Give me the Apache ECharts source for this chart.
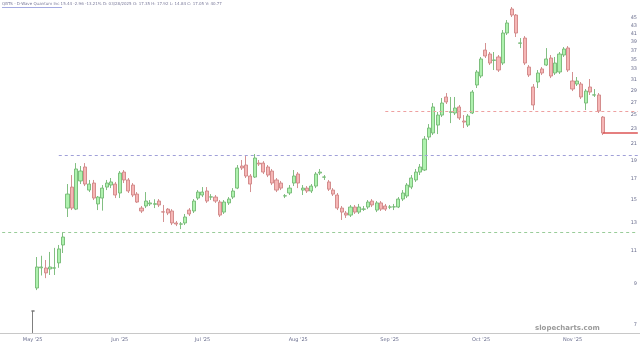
<!DOCTYPE html>
<html><head><meta charset="utf-8">
<script src="https://cdn.jsdelivr.net/npm/echarts@6/dist/echarts.min.js"></script>
<style>html,body{margin:0;padding:0;background:#fff}#c{width:640px;height:345px}</style>
</head><body><div id="c"></div>
<script>
// Daily OHLC (log price scale)
const opens = [7.62,8.76,9.90,9.89,9.83,9.88,10.20,11.37,14.22,16.15,14.13,16.76,18.24,15.86,16.55,14.58,15.11,16.15,16.35,16.45,15.58,17.69,16.86,16.35,15.48,14.22,14.40,14.58,14.55,14.84,13.90,14.13,13.97,12.99,12.90,12.99,14.05,13.97,15.11,15.39,15.77,15.20,15.20,14.75,13.88,14.67,15.20,16.05,18.35,18.46,17.27,17.16,18.68,18.68,18.24,17.80,16.86,16.55,15.30,15.58,16.55,17.48,15.86,16.05,15.77,16.25,17.58,17.15,16.66,15.86,15.39,14.22,13.80,13.63,14.31,13.88,14.12,14.31,14.84,14.05,14.67,14.40,14.30,14.32,14.31,15.02,15.30,16.15,16.86,17.69,17.91,21.87,22.41,23.52,24.99,27.88,25.40,25.30,26.24,24.10,23.52,25.30,29.98,31.66,37.06,36.17,34.80,35.53,34.25,41.09,47.52,45.82,38.60,39.85,33.43,29.62,30.53,33.04,33.84,35.31,32.24,32.44,35.96,37.52,30.72,30.16,30.16,26.88,29.62,28.20,28.22,24.69];
const closes = [7.62,9.95,9.95,9.60,9.95,9.90,11.10,11.93,15.48,14.22,18.02,17.80,16.45,16.45,15.11,15.20,16.05,16.55,16.66,15.39,17.58,16.86,15.77,15.39,14.75,13.97,14.84,14.67,14.60,14.49,13.88,13.80,12.99,12.91,12.92,13.47,13.72,14.84,15.67,15.67,14.84,15.22,14.84,13.63,14.75,15.02,15.77,18.13,18.13,17.27,16.45,19.26,18.57,17.69,17.37,16.55,15.86,16.05,15.32,16.05,17.27,16.55,16.05,15.77,16.25,17.48,17.69,17.17,15.95,15.48,14.22,13.88,13.63,14.31,13.88,14.31,14.14,14.75,14.49,14.67,14.13,14.13,14.32,14.33,15.02,15.58,16.35,17.06,17.69,18.24,21.61,23.10,26.24,24.99,26.88,27.05,25.50,26.08,24.55,23.95,24.84,28.73,32.44,35.10,35.74,34.25,34.90,32.83,41.09,43.66,45.82,41.09,38.70,34.25,31.85,26.56,32.24,32.24,35.10,31.66,34.25,36.17,37.29,32.83,29.26,30.72,27.88,28.90,28.73,28.25,25.60,22.41];
const lows = [6.67,8.65,9.45,9.30,9.48,9.48,9.90,10.83,13.47,14.05,14.05,16.45,16.25,15.67,14.93,14.05,14.00,15.86,16.05,15.11,15.11,16.55,15.58,15.20,14.67,13.80,14.22,14.40,14.22,14.31,13.07,13.63,12.83,12.75,12.52,12.83,13.55,13.80,14.93,15.20,14.67,14.93,14.67,13.47,13.72,14.49,15.02,15.95,17.91,17.06,15.67,17.06,18.35,17.48,17.16,16.35,15.67,15.86,15.11,15.39,16.25,16.05,15.39,15.58,15.58,16.05,17.37,16.86,15.77,15.30,14.05,13.23,13.39,13.47,13.72,13.72,13.97,14.13,14.31,13.88,13.97,13.97,14.13,14.05,14.22,14.84,15.11,15.95,16.66,17.37,17.80,21.48,22.14,22.27,24.69,26.72,23.80,24.99,24.25,23.10,23.24,25.14,29.44,31.27,35.31,33.84,32.83,32.44,33.84,40.59,45.27,40.10,37.50,33.84,31.47,25.76,29.44,31.85,33.63,31.27,31.85,32.05,35.53,32.44,28.90,29.80,27.54,25.76,28.22,27.88,25.30,22.14];
const highs = [7.62,10.57,10.65,10.38,10.90,11.17,11.37,12.30,16.45,17.37,18.68,18.35,18.68,16.86,16.86,15.30,16.35,16.86,17.06,16.66,17.80,17.91,17.06,16.55,15.67,14.40,15.67,14.93,15.00,15.02,14.49,14.22,14.13,13.15,13.07,13.72,14.22,15.02,15.86,16.15,16.15,15.48,15.39,14.93,14.93,15.20,16.05,18.46,19.03,19.49,17.48,19.73,19.03,18.90,18.46,18.02,17.06,16.76,15.48,16.35,17.91,17.69,16.35,16.25,16.45,17.69,18.02,17.37,16.86,16.05,15.58,14.40,13.97,14.49,14.49,14.58,14.40,14.93,15.02,14.84,14.84,14.58,14.49,14.58,15.20,15.86,16.55,17.37,18.02,18.57,22.00,23.66,26.88,25.45,27.71,28.56,27.88,27.88,26.56,24.99,25.14,29.08,32.83,35.53,38.67,36.62,36.62,35.96,41.84,44.45,48.10,46.10,39.85,40.34,33.84,30.16,32.83,33.43,37.50,35.96,35.53,36.62,37.74,37.97,32.44,31.47,30.53,29.26,31.09,29.26,28.56,24.84];
const yTicks = [7,9,11,13,15,17,19,21,23,25,27,29,31,33,35,37,39,41,43,45];
// month label -> index of the candle it sits under
const monthTicks = [[0,"May '25"],[20,"Jun '25"],[39,"Jul '25"],[61,"Aug '25"],[82,"Sep '25"],[103,"Oct '25"],[124,"Nov '25"]];
const levelGreen = 12.3, levelBlue = 19.6, levelRed = 25.5;
const headerText = "QBTS - D-Wave Quantum Inc 15.44 -2.96 -13.21% D: 03/28/2025 O: 17.35 H: 17.92 L: 14.84 C: 17.05 V: 40.77";

const PAD_L = 7, PAD_R = 8;
const n = opens.length;
const cats = [];
for (let i = 0; i < PAD_L + n + PAD_R; i++) cats.push('c' + i);
const data = [];
for (let i = 0; i < PAD_L; i++) data.push('-');
for (let i = 0; i < n; i++) data.push([opens[i], closes[i], lows[i], highs[i]]);
for (let i = 0; i < PAD_R; i++) data.push('-');
const tickMap = new Map(monthTicks.map(t => [t[0] + PAD_L, t[1]]));
const lastIdx = cats.length - 1;
const lastCandle = PAD_L + n - 1;

const chart = echarts.init(document.getElementById('c'), null, {renderer: 'canvas'});
chart.setOption({
  animation: false,
  backgroundColor: '#ffffff',
  grid: {left: 0, right: 0, top: 5, bottom: 12, outerBoundsMode: 'none', containLabel: false},
  xAxis: {
    type: 'category', data: cats, boundaryGap: true,
    axisLine: {show: true, lineStyle: {color: '#c8c8c8', width: 1}},
    axisTick: {show: false},
    splitLine: {show: false},
    axisLabel: {
      interval: (idx) => tickMap.has(idx),
      formatter: (v, idx) => tickMap.get(idx) || '',
      fontSize: 5, color: '#6b6f8f', margin: 4, fontFamily: 'DejaVu Sans'
    }
  },
  yAxis: {
    type: 'log', position: 'right', min: 6.669, max: 48.69,
    axisLine: {show: false}, axisTick: {show: false}, splitLine: {show: false},
    axisLabel: {inside: true, customValues: yTicks, fontSize: 5, color: '#6b6f8f', margin: 3, fontFamily: 'DejaVu Sans'}
  },
  series: [{
    type: 'candlestick', data: data, barWidth: 3.6,
    itemStyle: {
      color: '#aef2ae', color0: '#f6b6b6',
      borderColor: '#74b874', borderColor0: '#cf8585',
      borderColorDoji: '#707070', borderWidth: 0.9
    },
    markLine: {
      silent: true, symbol: ['none', 'none'], label: {show: false}, animation: false,
      data: [
        [{coord: [0, levelGreen], lineStyle: {color: '#99cc99', type: [3, 3], width: 1}}, {coord: [lastIdx, levelGreen]}],
        [{coord: [13, levelBlue], lineStyle: {color: '#a0a0d8', type: [3, 3], width: 1}}, {coord: [lastIdx, levelBlue]}],
        [{coord: [88, levelRed], lineStyle: {color: '#eea0a0', type: [3, 3], width: 1}}, {coord: [lastIdx, levelRed]}],
        [{coord: [lastCandle, closes[n - 1]], lineStyle: {color: '#dd5555', type: 'solid', width: 1.5}}, {coord: [lastIdx, closes[n - 1]]}]
      ]
    }
  }],
  graphic: [
    {type: 'text', left: 2, top: 2, style: {text: headerText, fontSize: 4, fill: '#7a7a9a', fontFamily: 'DejaVu Sans'}},
    {type: 'line', shape: {x1: 2, y1: 7.5, x2: 62, y2: 7.5}, style: {stroke: '#6670cc', lineWidth: 0.6}},
    {type: 'text', left: 535, top: 325, style: {text: 'slopecharts.com', fontSize: 7, fontWeight: 'bold', fill: '#9a9a9a', fontFamily: 'DejaVu Sans'}}
  ]
});
</script>
</body></html>
